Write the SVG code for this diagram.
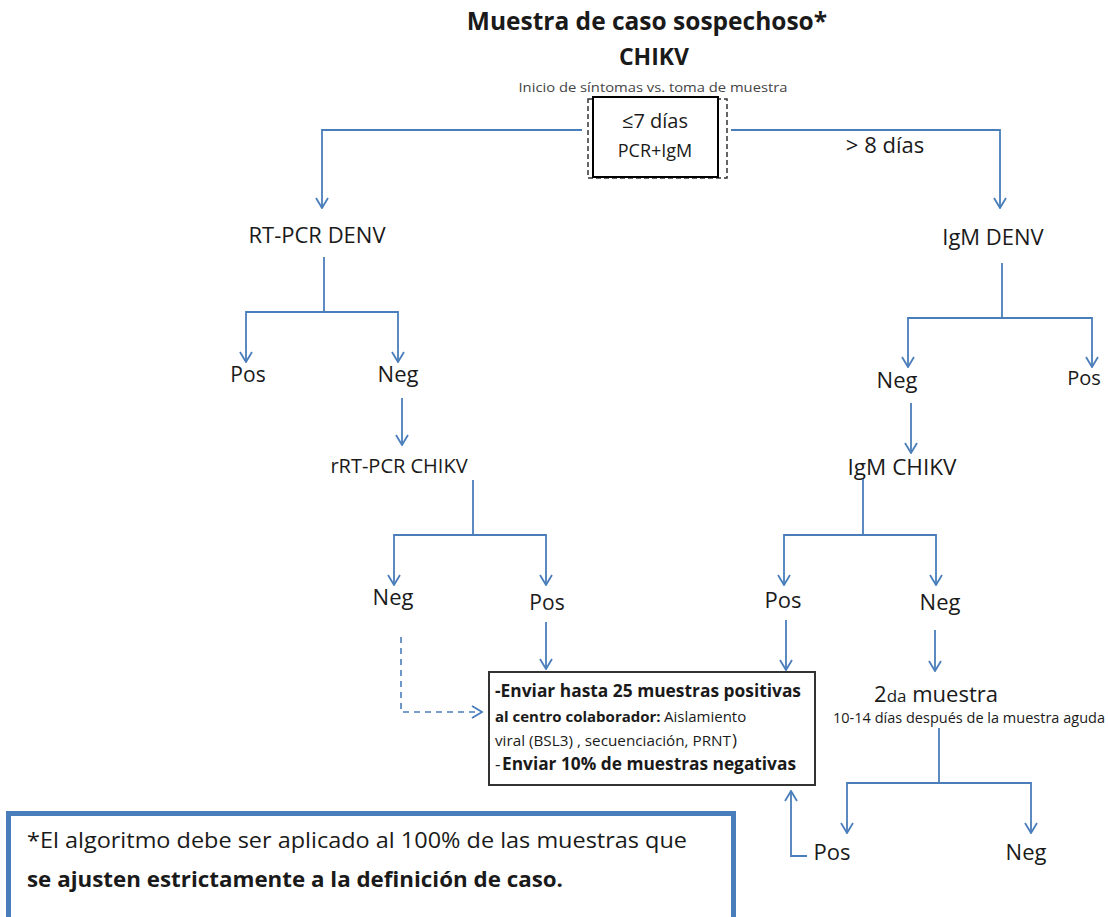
<svg xmlns="http://www.w3.org/2000/svg" width="1108" height="917" viewBox="0 0 1108 917">
<style>
text{font-family:"Open Sans","Liberation Sans",sans-serif;fill:#1a1a1a}
.t{font-size:22px;text-anchor:middle}
.b{font-weight:bold}
.c{stroke:#4a7ebb;stroke-width:1.8;fill:none}
.d{stroke:#4a7ebb;stroke-width:1.6;fill:none;stroke-dasharray:6,5}
</style>
<defs>
<marker id="ah" viewBox="0 0 12 14" refX="11" refY="7" markerWidth="12" markerHeight="14" markerUnits="userSpaceOnUse" orient="auto">
<path d="M1,1 L11,7 L1,13" fill="none" stroke="#4a7ebb" stroke-width="1.8"/>
</marker>
</defs>
<rect width="1108" height="917" fill="#fff"/>

<g id="title">
<text x="647" y="30" class="b" style="font-size:24.5px;text-anchor:middle">Muestra de caso sospechoso*</text>
<text x="654" y="65" class="b" style="font-size:23px;text-anchor:middle">CHIKV</text>
<text x="653" y="92" style="font-size:13px;text-anchor:middle;fill:#444" textLength="269" lengthAdjust="spacingAndGlyphs">Inicio de  síntomas vs. toma de muestra</text>
</g>

<g id="start">
<rect x="588" y="99" width="139" height="79" fill="none" stroke="#333" stroke-width="1.5" stroke-dasharray="5,3"/>
<rect x="593" y="97" width="125" height="80" fill="#fff" stroke="#000" stroke-width="2"/>
<text x="655" y="128" class="t" style="font-size:20px">≤7 días</text>
<text x="655" y="157" class="t" style="font-size:18px">PCR+IgM</text>
</g>
<g id="lbl8"><text x="885" y="153" class="t">&gt; 8 días</text></g>

<g id="rtpcr"><text x="317" y="243" class="t">RT-PCR DENV</text></g>
<g id="igmdenv"><text x="993" y="245" class="t">IgM DENV</text></g>
<g id="pos1"><text x="248" y="382" class="t" style="font-size:21px">Pos</text></g>
<g id="neg1"><text x="398" y="382" class="t">Neg</text></g>
<g id="rrtpcr"><text x="399" y="473" class="t" style="font-size:20px">rRT-PCR CHIKV</text></g>
<g id="neg2"><text x="393" y="605" class="t">Neg</text></g>
<g id="pos2"><text x="547" y="610" class="t" style="font-size:21px">Pos</text></g>
<g id="neg3"><text x="897" y="388" class="t">Neg</text></g>
<g id="pos3"><text x="1084" y="385" class="t" style="font-size:20px">Pos</text></g>
<g id="igmchikv"><text x="902" y="475" class="t" style="font-size:22.5px">IgM CHIKV</text></g>
<g id="pos4"><text x="783" y="608" class="t">Pos</text></g>
<g id="neg4"><text x="940" y="610" class="t">Neg</text></g>
<g id="second">
<text x="936" y="702" class="t" style="font-size:22px">2<tspan style="font-size:17px">da</tspan> muestra</text>
<text x="969" y="723" class="t" style="font-size:14.5px" textLength="272" lengthAdjust="spacingAndGlyphs">10-14 días después de la muestra aguda</text>
</g>
<g id="pos5"><text x="832" y="860" class="t">Pos</text></g>
<g id="neg5"><text x="1026" y="860" class="t">Neg</text></g>

<g id="send">
<rect x="489" y="672" width="326" height="113" fill="#fff" stroke="#333" stroke-width="2"/>
<text x="495" y="697" class="b" style="font-size:17px" textLength="306" lengthAdjust="spacingAndGlyphs">-Enviar hasta 25 muestras positivas</text>
<text x="495" y="722" class="b" style="font-size:15px">al centro colaborador:</text>
<text x="664" y="722" style="font-size:15px">Aislamiento</text>
<text x="495" y="746" style="font-size:14px" textLength="236" lengthAdjust="spacingAndGlyphs">viral (BSL3) , secuenciación, PRNT</text>
<text x="732" y="746" style="font-size:17px">)</text>
<text x="495" y="770" style="font-size:17px">-</text>
<text x="502" y="770" class="b" style="font-size:17px" textLength="294" lengthAdjust="spacingAndGlyphs">Enviar 10% de muestras negativas</text>
</g>

<g id="note">
<rect x="8.5" y="813.5" width="725" height="110" fill="#fff" stroke="#4a7ebb" stroke-width="5"/>
<text x="27" y="848" style="font-size:22px" textLength="660" lengthAdjust="spacingAndGlyphs">*El algoritmo debe ser aplicado al 100% de las muestras que</text>
<text x="27" y="887" class="b" style="font-size:21px" textLength="536" lengthAdjust="spacingAndGlyphs">se ajusten estrictamente a la definición de caso.</text>
</g>

<g id="connectors">
<path class="c" d="M582,130 H322 V208" marker-end="url(#ah)"/>
<path class="c" d="M731,130 H1000 V208" marker-end="url(#ah)"/>
<path class="c" d="M324,257 V312"/>
<path class="c" d="M324,312 H246 V362" marker-end="url(#ah)"/>
<path class="c" d="M324,312 H398 V362" marker-end="url(#ah)"/>
<path class="c" d="M402,398 V445" marker-end="url(#ah)"/>
<path class="c" d="M473,480 V535"/>
<path class="c" d="M473,535 H394 V585" marker-end="url(#ah)"/>
<path class="c" d="M473,535 H546 V585" marker-end="url(#ah)"/>
<path class="d" d="M401,637 V712 H482" marker-end="url(#ah)"/>
<path class="c" d="M546,622 V669" marker-end="url(#ah)"/>
<path class="c" d="M1002,263 V318"/>
<path class="c" d="M1002,318 H908 V367" marker-end="url(#ah)"/>
<path class="c" d="M1002,318 H1092 V367" marker-end="url(#ah)"/>
<path class="c" d="M911,403 V453" marker-end="url(#ah)"/>
<path class="c" d="M863,479 V535"/>
<path class="c" d="M863,535 H784 V585" marker-end="url(#ah)"/>
<path class="c" d="M863,535 H936 V585" marker-end="url(#ah)"/>
<path class="c" d="M786,620 V670" marker-end="url(#ah)"/>
<path class="c" d="M935,630 V671" marker-end="url(#ah)"/>
<path class="c" d="M939,728 V783"/>
<path class="c" d="M939,783 H847 V833" marker-end="url(#ah)"/>
<path class="c" d="M939,783 H1031 V833" marker-end="url(#ah)"/>
<path class="c" d="M807,856 H791 V791" marker-end="url(#ah)"/>
</g>
</svg>
